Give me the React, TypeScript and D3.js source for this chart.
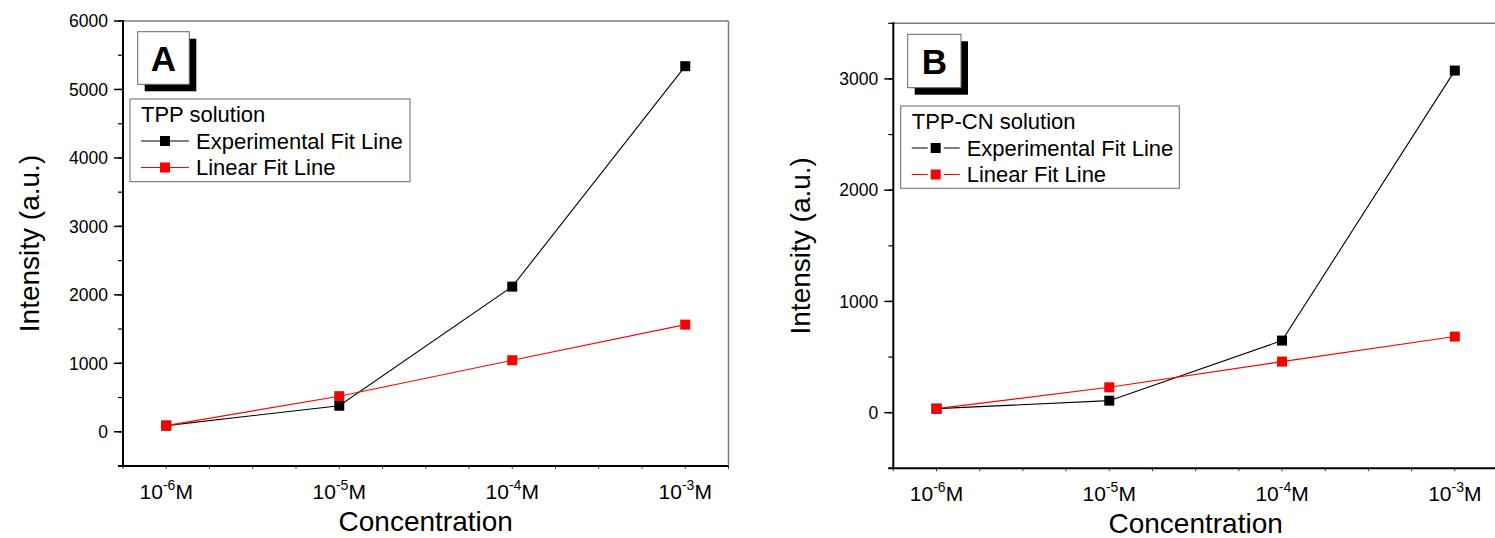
import React from "react";
import * as d3 from "d3";

const concentrationExponents = ["-6", "-5", "-4", "-3"];
const tppExperimental = [90, 380, 2120, 5340];
const tppLinear = [90, 520, 1045, 1565];
const tppcnExperimental = [36, 108, 648, 3075];
const tppcnLinear = [36, 228, 459, 684];
const tppYTicks = [0, 1000, 2000, 3000, 4000, 5000, 6000];
const tppcnYTicks = [0, 1000, 2000, 3000];
const seriesNames = ["Experimental Fit Line", "Linear Fit Line"];

const FONT = "'Liberation Sans', Arial, sans-serif";

type PanelProps = {
  letter: string;
  legendTitle: string;
  experimental: number[];
  linear: number[];
  yDomain: [number, number];
  yTicks: number[];
  x0: number;
  x1: number;
  y0: number;
  y1: number;
  gapLegend: boolean;
  labelBox: { x: number; y: number; w: number; h: number };
  legendBox: { x: number; y: number; w: number; h: number };
  yTitleX: number;
};

function Panel(p: PanelProps) {
  const x = d3.scaleLinear().domain([-0.25, 3.25]).range([p.x0, p.x1]);
  const y = d3.scaleLinear().domain(p.yDomain).range([p.y1, p.y0]);
  const idx = concentrationExponents.map((_, i) => i);
  const line = d3
    .line<number>()
    .x((_, i) => x(i))
    .y((d) => y(d));
  const minorY = d3.range(p.yDomain[0], p.yDomain[1] + 1, 500);
  const minorX = d3.range(-0.25, 3.26, 0.25);
  const ms = 10;
  const lb = p.legendBox;
  const series = [
    { data: p.experimental, color: "#000000", name: seriesNames[0] },
    { data: p.linear, color: "#ff0000", name: seriesNames[1] },
  ];
  return (
    <g fontFamily={FONT}>
      <line x1={p.x0} x2={p.x1} y1={p.y0} y2={p.y0} stroke="#7a7a7a" strokeWidth={1.5} />
      <line x1={p.x1} x2={p.x1} y1={p.y0} y2={p.y1} stroke="#7a7a7a" strokeWidth={1.5} />
      {minorY.map((v) => (
        <line key={"my" + v} x1={p.x0 - 5} x2={p.x0} y1={y(v)} y2={y(v)} stroke="#000" strokeWidth={1.2} />
      ))}
      {p.yTicks.map((v) => (
        <g key={"yt" + v}>
          <line x1={p.x0 - 9} x2={p.x0} y1={y(v)} y2={y(v)} stroke="#000" strokeWidth={1.5} />
          <text x={p.x0 - 15} y={y(v)} dy="0.36em" textAnchor="end" fontSize={17.5} fill="#000">
            {v}
          </text>
        </g>
      ))}
      {minorX.map((v) => (
        <line key={"mx" + v} x1={x(v)} x2={x(v)} y1={p.y1} y2={p.y1 + 3} stroke="#444" strokeWidth={1} />
      ))}
      {concentrationExponents.map((e, i) => (
        <text key={"xt" + e} x={x(i)} y={p.y1 + 32.5} textAnchor="middle" fontSize={21} fill="#000">
          10
          <tspan fontSize={14} dy={-9}>
            {e}
          </tspan>
          <tspan dy={9}>M</tspan>
        </text>
      ))}
      <line x1={p.x0} x2={p.x0} y1={p.y0 - 1} y2={p.y1} stroke="#000" strokeWidth={2} />
      <line x1={p.x0 - 5} x2={p.x1} y1={p.y1} y2={p.y1} stroke="#000" strokeWidth={2} />
      <text x={(p.x0 + Math.min(p.x1, 1500)) / 2} y={p.y1 + 65} textAnchor="middle" fontSize={28} fill="#000">
        Concentration
      </text>
      <text
        transform={`translate(${p.yTitleX},${(p.y0 + p.y1) / 2}) rotate(-90)`}
        textAnchor="middle"
        fontSize={28}
        fill="#000"
      >
        Intensity (a.u.)
      </text>
      {series.map((s) => (
        <g key={s.name}>
          <path d={line(s.data) || ""} fill="none" stroke={s.color} strokeWidth={1.1} />
          {idx.map((i) => (
            <rect
              key={i}
              x={x(i) - ms / 2}
              y={y(s.data[i]) - ms / 2}
              width={ms}
              height={ms}
              fill={s.color}
            />
          ))}
        </g>
      ))}
      <rect x={p.labelBox.x + 7} y={p.labelBox.y + 7} width={p.labelBox.w} height={p.labelBox.h} fill="#000" />
      <rect x={p.labelBox.x} y={p.labelBox.y} width={p.labelBox.w} height={p.labelBox.h} fill="#fff" stroke="#666" strokeWidth={1} />
      <text
        x={p.labelBox.x + p.labelBox.w / 2}
        y={p.labelBox.y + p.labelBox.h / 2 + 12.5}
        textAnchor="middle"
        fontSize={35}
        fontWeight="bold"
        fill="#000"
      >
        {p.letter}
      </text>
      <rect x={lb.x} y={lb.y} width={lb.w} height={lb.h} fill="#fff" stroke="#666" strokeWidth={1} />
      <text x={lb.x + 11} y={lb.y + 23} fontSize={22} fill="#000">
        {p.legendTitle}
      </text>
      {series.map((s, k) => {
        const cy = lb.y + 42 + k * 26.5;
        const lx0 = lb.x + 11;
        const lx1 = lb.x + 59;
        const mx = (lx0 + lx1) / 2;
        return (
          <g key={"lg" + k}>
            {p.gapLegend ? (
              <>
                <line x1={lx0} x2={mx - 8} y1={cy} y2={cy} stroke={s.color} strokeWidth={1} />
                <line x1={mx + 8} x2={lx1} y1={cy} y2={cy} stroke={s.color} strokeWidth={1} />
              </>
            ) : (
              <line x1={lx0} x2={lx1} y1={cy} y2={cy} stroke={s.color} strokeWidth={1} />
            )}
            <rect x={mx - ms / 2} y={cy - ms / 2} width={ms} height={ms} fill={s.color} />
            <text x={lx1 + 7} y={cy + 7.5} fontSize={22} fill="#000">
              {s.name}
            </text>
          </g>
        );
      })}
    </g>
  );
}

export default function App() {
  return (
    <svg
      width={1495}
      height={538}
      style={{ position: "absolute", left: 0, top: 0, background: "#fff" }}
    >
      <rect x={0} y={0} width={1495} height={538} fill="#fff" />
      <Panel
        letter="A"
        legendTitle="TPP solution"
        experimental={tppExperimental}
        linear={tppLinear}
        yDomain={[-500, 6000]}
        yTicks={tppYTicks}
        x0={123}
        x1={728.5}
        y0={21}
        y1={466}
        gapLegend={false}
        labelBox={{ x: 137.7, y: 31.7, w: 51.6, h: 52.6 }}
        legendBox={{ x: 130, y: 99, w: 280, h: 82.7 }}
        yTitleX={39}
      />
      <Panel
        letter="B"
        legendTitle="TPP-CN solution"
        experimental={tppcnExperimental}
        linear={tppcnLinear}
        yDomain={[-500, 3500]}
        yTicks={tppcnYTicks}
        x0={893.3}
        x1={1498}
        y0={23.3}
        y1={468.3}
        gapLegend={true}
        labelBox={{ x: 907.7, y: 34.3, w: 53.3, h: 53.4 }}
        legendBox={{ x: 900.7, y: 106, w: 278.6, h: 82.3 }}
        yTitleX={810}
      />
    </svg>
  );
}
